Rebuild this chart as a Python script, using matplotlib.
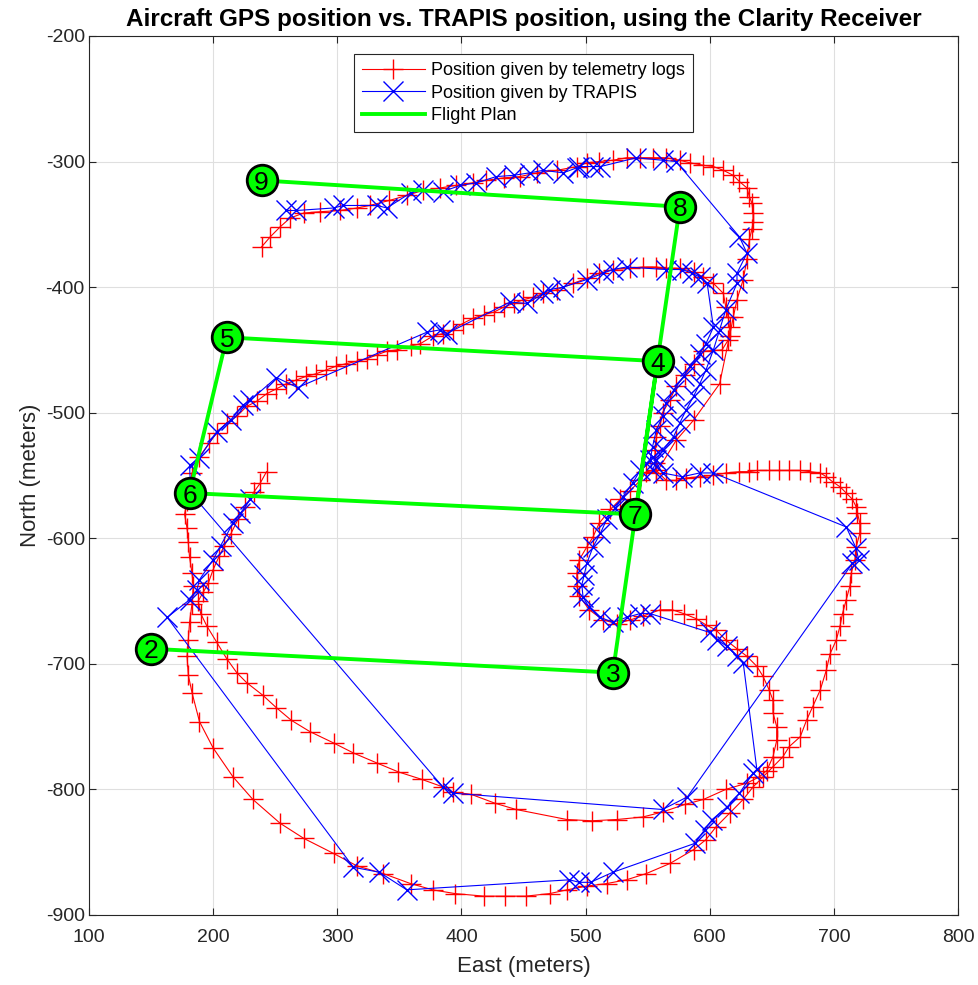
import matplotlib
matplotlib.use("Agg")
import matplotlib.pyplot as plt

plt.rcParams['font.family'] = ['Liberation Sans', 'DejaVu Sans']
plt.rcParams['axes.unicode_minus'] = False

TITLE = "Aircraft GPS position vs. TRAPIS position, using the Clarity Receiver"

# flight plan waypoints (meters)
wp_labels = ['2', '3', '4', '5', '6', '7', '8', '9']
wp_east = [150, 522, 558, 211, 181, 540, 576, 239]
wp_north = [-688, -707, -459, -440, -564, -581, -336, -315]

# telemetry log positions
gps_east = [
    243, 238, 233, 226, 220, 214, 209, 205, 200, 196, 192, 188, 190, 195, 203, 211, 219, 227, 240, 251,
    263, 278, 297, 313, 332, 349, 368, 385, 393, 408, 427, 444, 485, 505, 525, 546, 562, 580, 595, 613,
    630, 640, 646,
    651, 654, 654, 651, 651, 648, 643, 638, 630, 622, 613, 605, 597, 589, 579, 570, 560, 546, 536, 525,
    514, 503, 495,
    493, 493, 495, 501, 506, 511, 520, 528, 536, 544, 549, 557,
    565, 573, 581, 592, 603, 613, 624, 632, 638, 648, 656, 664, 673, 681, 689, 694, 699, 705, 710, 715,
    718, 719, 721, 721, 718, 717, 714, 713, 710, 707, 705, 702, 697, 694, 689, 683, 678, 673, 664, 659,
    651, 643, 635, 627, 616, 605, 597, 587, 568, 549, 533, 517, 501, 485, 471, 452, 435, 418, 395, 377,
    359, 337, 316, 297, 273, 254, 232, 216, 200, 189, 183, 180, 179, 180, 181, 183, 184, 183, 181, 180,
    179, 177, 179,
    183, 189, 197, 203, 211, 219, 227, 235, 243, 251, 259, 267, 275, 283, 291, 299, 307, 316, 324, 332,
    340, 348, 359, 367, 377, 385, 393, 401, 409, 418, 426, 434, 442, 450, 458, 466, 477, 490, 501, 511,
    522, 536, 546, 557, 565, 576, 587, 595, 603, 611, 613, 615, 616, 615, 610,
    595, 587, 580, 573, 568, 562, 560, 557, 556, 556, 557,
    573, 587, 608, 616, 619, 622, 627, 630, 632, 634, 635, 635, 634, 632, 630, 624, 619, 611, 603, 595,
    584, 576, 565, 554, 544, 533, 522, 511, 501, 493, 477, 461, 447, 434, 420, 409, 396, 383, 369, 356,
    342, 326, 316, 302, 286, 273, 262, 254, 246, 239,
]
gps_north = [
    -547, -556, -563, -575, -585, -597, -606, -614, -625, -636, -643, -650, -660, -670, -683, -696, -707, -715, -725, -735,
    -745, -754, -763, -771, -779, -786, -792, -798, -802, -804, -811, -816, -824, -825, -824, -822, -818, -812, -808, -800,
    -795, -790, -785,
    -774, -761, -750, -739, -729, -721, -710, -702, -694, -688, -681, -673, -669, -664, -660, -657, -657, -662, -665, -668,
    -665, -657, -646,
    -638, -628, -617, -607, -599, -588, -577, -569, -562, -554, -547, -546,
    -554, -554, -552, -551, -550, -548, -547, -547, -546, -546, -546, -546, -546, -547, -548, -551, -555, -559, -564, -569,
    -575, -580, -588, -596, -607, -617, -628, -638, -649, -660, -670, -681, -692, -705, -721, -734, -745, -758, -766, -774,
    -782, -790, -798, -808, -819, -830, -840, -848, -859, -867, -872, -875, -877, -880, -883, -885, -885, -885, -883, -880,
    -875, -867, -861, -851, -839, -827, -808, -790, -767, -746, -723, -709, -694, -681, -667, -652, -638, -628, -615, -603,
    -592, -581, -570,
    -548, -535, -524, -516, -508, -503, -495, -491, -485, -481, -477, -474, -471, -469, -466, -463, -461, -459, -457, -454,
    -451, -450, -447, -445, -439, -437, -434, -429, -425, -422, -420, -416, -413, -410, -408, -405, -402, -397, -393, -389,
    -386, -385, -384, -384, -385, -385, -388, -392, -397, -405, -416, -424, -432, -442, -450,
    -451, -461, -470, -479, -490, -500, -511, -519, -530, -540, -548,
    -522, -506, -477, -439, -424, -410, -394, -378, -362, -354, -348, -341, -333, -328, -321, -316, -311, -307, -304, -303,
    -301, -299, -297, -297, -297, -297, -299, -300, -301, -304, -307, -309, -312, -313, -315, -317, -319, -321, -323, -327,
    -331, -335, -337, -339, -340, -341, -345, -352, -360, -368,
]

# TRAPIS positions
trapis_east = [
    230, 222, 216, 206, 200, 189, 187, 181, 163,
    313, 334, 356, 487, 495, 504, 522, 588, 596, 602, 614, 624, 635, 638,
    627, 622, 614, 606, 600,
    552, 544, 533, 522, 512, 503, 498, 497, 499, 501, 506, 512, 517, 524, 530, 538, 544, 554,
    562, 578, 592, 603, 710, 718, 720, 715,
    582, 562, 393, 385, 182,
    181, 189, 203, 214, 224, 230, 251, 268, 372, 383, 388, 439, 453, 466, 471, 482, 501, 514, 522, 533,
    565, 578, 586, 592, 598,
    603, 597, 592, 584, 579, 571, 565, 562, 557, 554, 552, 554,
    557, 562, 571, 576, 581, 587, 592, 597, 603, 608, 613, 622, 622, 630, 624,
    573, 562, 541, 512, 506, 495, 493, 482, 466, 455, 442, 428, 412, 399, 385, 369, 359, 340, 332, 305,
    297, 267, 259,
]
trapis_north = [
    -569, -580, -588, -606, -617, -633, -641, -649, -663,
    -862, -866, -880, -872, -874, -874, -866, -843, -832, -824, -814, -803, -787, -784,
    -699, -694, -686, -681, -675,
    -660, -660, -663, -667, -663, -655, -647, -637, -629, -620, -607, -596, -585, -576, -567, -556, -546, -535,
    -548, -551, -548, -548, -591, -608, -617, -620,
    -806, -816, -803, -798, -564,
    -542, -536, -515, -506, -494, -490, -472, -480, -436, -434, -437, -412, -413, -405, -402, -400, -394, -389, -386, -384,
    -386, -386, -389, -392, -397,
    -432, -445, -453, -463, -471, -482, -492, -503, -514, -527, -538, -546,
    -538, -530, -519, -508, -498, -487, -477, -466, -450, -434, -418, -397, -389, -373, -360,
    -300, -299, -297, -304, -304, -304, -305, -309, -307, -309, -311, -312, -317, -319, -324, -323, -325, -337, -335, -335,
    -337, -339, -339,
]

fig = plt.figure(figsize=(9.79, 9.85), dpi=100)
ax = fig.add_axes([0.0909, 0.0711, 0.8876, 0.8924])

ax.plot(gps_east, gps_north, '-+', color='#ff0000', lw=0.8, ms=15, mew=1.0,
        label='Position given by telemetry logs', zorder=3)
ax.plot(trapis_east, trapis_north, '-x', color='#0000ff', lw=0.8, ms=15, mew=1.0,
        label='Position given by TRAPIS', zorder=4)
ax.plot(wp_east, wp_north, '-', color='#00ff00', lw=2.8, label='Flight Plan', zorder=5)
ax.plot(wp_east, wp_north, 'o', ls='none', ms=22, mfc='#00ff00', mec='black', mew=2.0, zorder=6)
for lab, e, n in zip(wp_labels, wp_east, wp_north):
    ax.text(e, n - 2, lab, ha='center', va='center', fontsize=19, color='black', zorder=7)

ax.set_xlim(100, 800)
ax.set_ylim(-900, -200)
ax.set_xticks(range(100, 801, 100))
ax.set_yticks(range(-900, -199, 100))
ax.grid(True, color='#dfdfdf', lw=0.8)
ax.set_axisbelow(True)
for sp in ax.spines.values():
    sp.set_color('#262626')
    sp.set_linewidth(0.8)
ax.tick_params(direction='in', top=True, right=True, length=5, labelsize=14,
               color='#262626', labelcolor='#262626')
ax.tick_params(axis='x', pad=10)
ax.tick_params(axis='y', pad=3)

ax.set_xlabel('East (meters)', fontsize=16, color='#262626', labelpad=7)
ax.set_ylabel('North (meters)', fontsize=16, color='#262626', labelpad=3)
ax.set_title(TITLE, fontsize=17.5, fontweight='bold', pad=7)

leg = ax.legend(loc='upper center', fontsize=13, numpoints=1, handlelength=3.5,
                handletextpad=0.35, labelspacing=0.3, borderpad=0.45,
                fancybox=False, framealpha=1, edgecolor='#262626', borderaxespad=1.0)
leg.get_frame().set_linewidth(0.8)

fig.savefig('out.png', dpi=100)
